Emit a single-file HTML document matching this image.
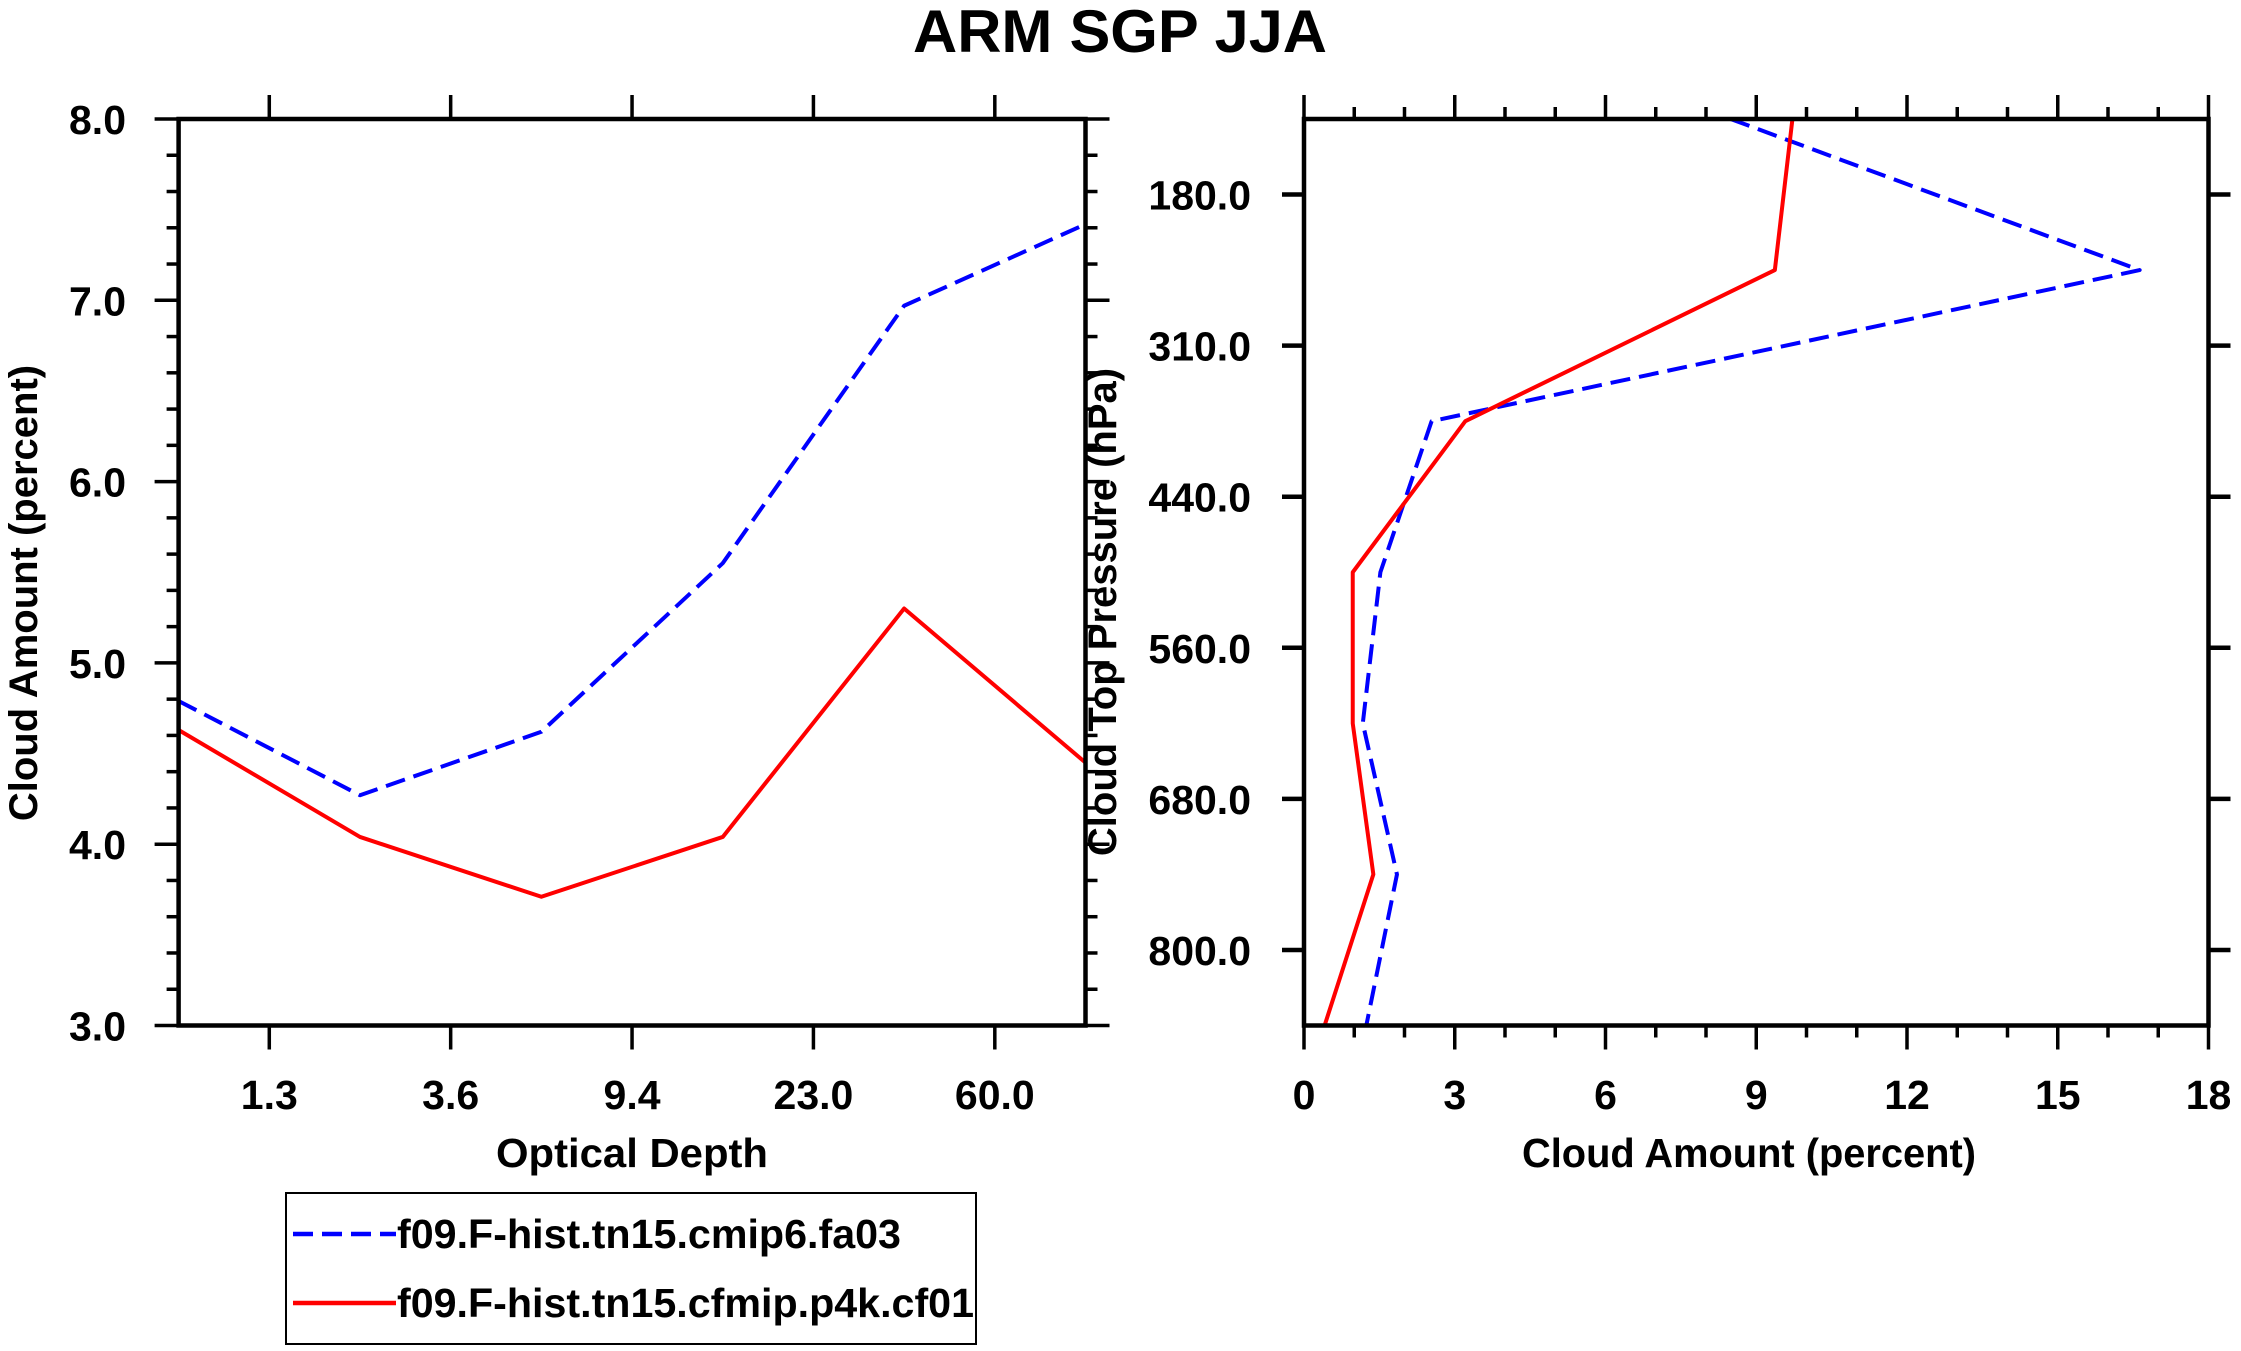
<!DOCTYPE html>
<html><head><meta charset="utf-8"><style>
html,body{margin:0;padding:0;background:#fff;}
svg{display:block;font-family:"Liberation Sans",Arial,sans-serif;font-weight:bold;}
</style></head><body>
<svg id="chart" width="2241" height="1351" viewBox="0 0 2241 1351" xmlns="http://www.w3.org/2000/svg">
<text x="1120" y="52" font-size="60" text-anchor="middle" textLength="414" lengthAdjust="spacingAndGlyphs">ARM SGP JJA</text>
<g id="left"></g>
<g id="right"></g>
<g id="legend">
<rect x="286" y="1193" width="690" height="151" fill="none" stroke="#000" stroke-width="2"/>
<line x1="293" y1="1234" x2="396" y2="1234" stroke="#0000ff" stroke-width="4.5" stroke-dasharray="20,9"/>
<text x="397" y="1248" font-size="41" textLength="504" lengthAdjust="spacingAndGlyphs">f09.F-hist.tn15.cmip6.fa03</text>
<line x1="293" y1="1303" x2="396" y2="1303" stroke="#ff0000" stroke-width="4.5"/>
<text x="397" y="1317" font-size="41" textLength="577" lengthAdjust="spacingAndGlyphs">f09.F-hist.tn15.cfmip.p4k.cf01</text>
</g>
</svg>
<script>
// Left panel data
const odLabels = ["1.3","3.6","9.4","23.0","60.0"];
const odBlue = [4.79, 4.27, 4.62, 5.55, 6.97, 7.42];
const odRed = [4.63, 4.04, 3.71, 4.04, 5.30, 4.45];
const leftYTicks = [3.0, 4.0, 5.0, 6.0, 7.0, 8.0];
// Right panel data
const pLabels = ["180.0","310.0","440.0","560.0","680.0","800.0"];
const pBlue = [8.49, 16.63, 2.54, 1.52, 1.17, 1.85, 1.24];
const pRed = [9.72, 9.37, 3.21, 0.97, 0.97, 1.38, 0.41];
const rightXTicks = [0, 3, 6, 9, 12, 15, 18];

const NS = "http://www.w3.org/2000/svg";
function mk(parent, tag, attrs, txt) {
  const e = document.createElementNS(NS, tag);
  for (const k in attrs) e.setAttribute(k, attrs[k]);
  if (txt !== undefined) e.textContent = txt;
  parent.appendChild(e);
  return e;
}
const TOP = 119, BOT = 1025.5;

// ---------- Left ----------
const L = document.getElementById('left');
const LX0 = 178.6, LX1 = 1085.5;
const lx = i => LX0 + (LX1 - LX0) * i / 5;
const ly = v => BOT - (BOT - TOP) * (v - 3) / 5;
for (let v = 3; v <= 8.001; v += 0.2) {
  const major = Math.abs(v - Math.round(v)) < 1e-6;
  const len = major ? 24 : 12;
  let t = mk(L, 'line', {x1: LX0 - len, y1: ly(v), x2: LX0, y2: ly(v), stroke: '#000', 'stroke-width': 3.5});
  
  
  t = mk(L, 'line', {x1: LX1, y1: ly(v), x2: LX1 + len, y2: ly(v), stroke: '#000', 'stroke-width': 3.5});
  
  
}
leftYTicks.forEach(v => {
  const t = mk(L, 'text', {x: 126, y: ly(v) + 15, 'font-size': 41, 'text-anchor': 'end'}, v.toFixed(1));
  
  
});
odLabels.forEach((lab, i) => {
  const x = lx(i + 0.5);
  let t = mk(L, 'line', {x1: x, y1: TOP - 24, x2: x, y2: TOP, stroke: '#000', 'stroke-width': 3.5});
  
  
  t = mk(L, 'line', {x1: x, y1: BOT, x2: x, y2: BOT + 24, stroke: '#000', 'stroke-width': 3.5});
  
  
  t = mk(L, 'text', {x: x, y: 1109, 'font-size': 41, 'text-anchor': 'middle'}, lab);
  
  
});
function series(parent, vals, xf, yf, color, dash, name) {
  const pts = vals.map((v, i) => xf(v, i) + ',' + yf(v, i)).join(' ');
  const a = {points: pts, fill: 'none', stroke: color, 'stroke-width': 4, 'stroke-linejoin': 'round'};
  if (dash) a['stroke-dasharray'] = '20,9';
  const p = mk(parent, 'polyline', a);
  
  
}
series(L, odBlue, (v, i) => lx(i), v => ly(v), '#0000ff', true, 'cmip6-optical-depth-line');
series(L, odRed, (v, i) => lx(i), v => ly(v), '#ff0000', false, 'p4k-optical-depth-line');
let f = mk(L, 'rect', {x: LX0, y: TOP, width: LX1 - LX0, height: BOT - TOP, fill: 'none', stroke: '#000', 'stroke-width': 4.5});


let tt = mk(L, 'text', {x: 632, y: 1167, 'font-size': 41, 'text-anchor': 'middle', textLength: 272, lengthAdjust: 'spacingAndGlyphs'}, 'Optical Depth');


tt = mk(L, 'text', {x: 0, y: 0, 'font-size': 40, 'text-anchor': 'middle', transform: 'translate(37,593) rotate(-90)'}, 'Cloud Amount (percent)');



// ---------- Right ----------
const R = document.getElementById('right');
const RX0 = 1304, RX1 = 2208.5;
const rx = v => RX0 + (RX1 - RX0) * v / 18;
const ry = i => TOP + (BOT - TOP) * i / 6;
for (let v = 0; v <= 18; v++) {
  const major = v % 3 === 0;
  const len = major ? 24 : 12;
  let t = mk(R, 'line', {x1: rx(v), y1: TOP - len, x2: rx(v), y2: TOP, stroke: '#000', 'stroke-width': 3.5});
  
  
  t = mk(R, 'line', {x1: rx(v), y1: BOT, x2: rx(v), y2: BOT + len, stroke: '#000', 'stroke-width': 3.5});
  
  
}
rightXTicks.forEach(v => {
  const t = mk(R, 'text', {x: rx(v), y: 1109, 'font-size': 41, 'text-anchor': 'middle'}, String(v));
  
  
});
pLabels.forEach((lab, i) => {
  const y = ry(i + 0.5);
  let t = mk(R, 'line', {x1: RX0 - 22, y1: y, x2: RX0, y2: y, stroke: '#000', 'stroke-width': 4.5});
  
  
  t = mk(R, 'line', {x1: RX1, y1: y, x2: RX1 + 22, y2: y, stroke: '#000', 'stroke-width': 4.5});
  
  
  t = mk(R, 'text', {x: 1251, y: y + 15, 'font-size': 41, 'text-anchor': 'end'}, lab);
  
  
});
series(R, pBlue, v => rx(v), (v, i) => ry(i), '#0000ff', true, 'cmip6-pressure-line');
series(R, pRed, v => rx(v), (v, i) => ry(i), '#ff0000', false, 'p4k-pressure-line');
f = mk(R, 'rect', {x: RX0, y: TOP, width: RX1 - RX0, height: BOT - TOP, fill: 'none', stroke: '#000', 'stroke-width': 4.5});


tt = mk(R, 'text', {x: 1749, y: 1167, 'font-size': 41, 'text-anchor': 'middle', textLength: 454, lengthAdjust: 'spacingAndGlyphs'}, 'Cloud Amount (percent)');


tt = mk(R, 'text', {x: 0, y: 0, 'font-size': 40, 'text-anchor': 'middle', transform: 'translate(1116,612) rotate(-90)'}, 'Cloud Top Pressure (hPa)');


</script>
</body></html>
